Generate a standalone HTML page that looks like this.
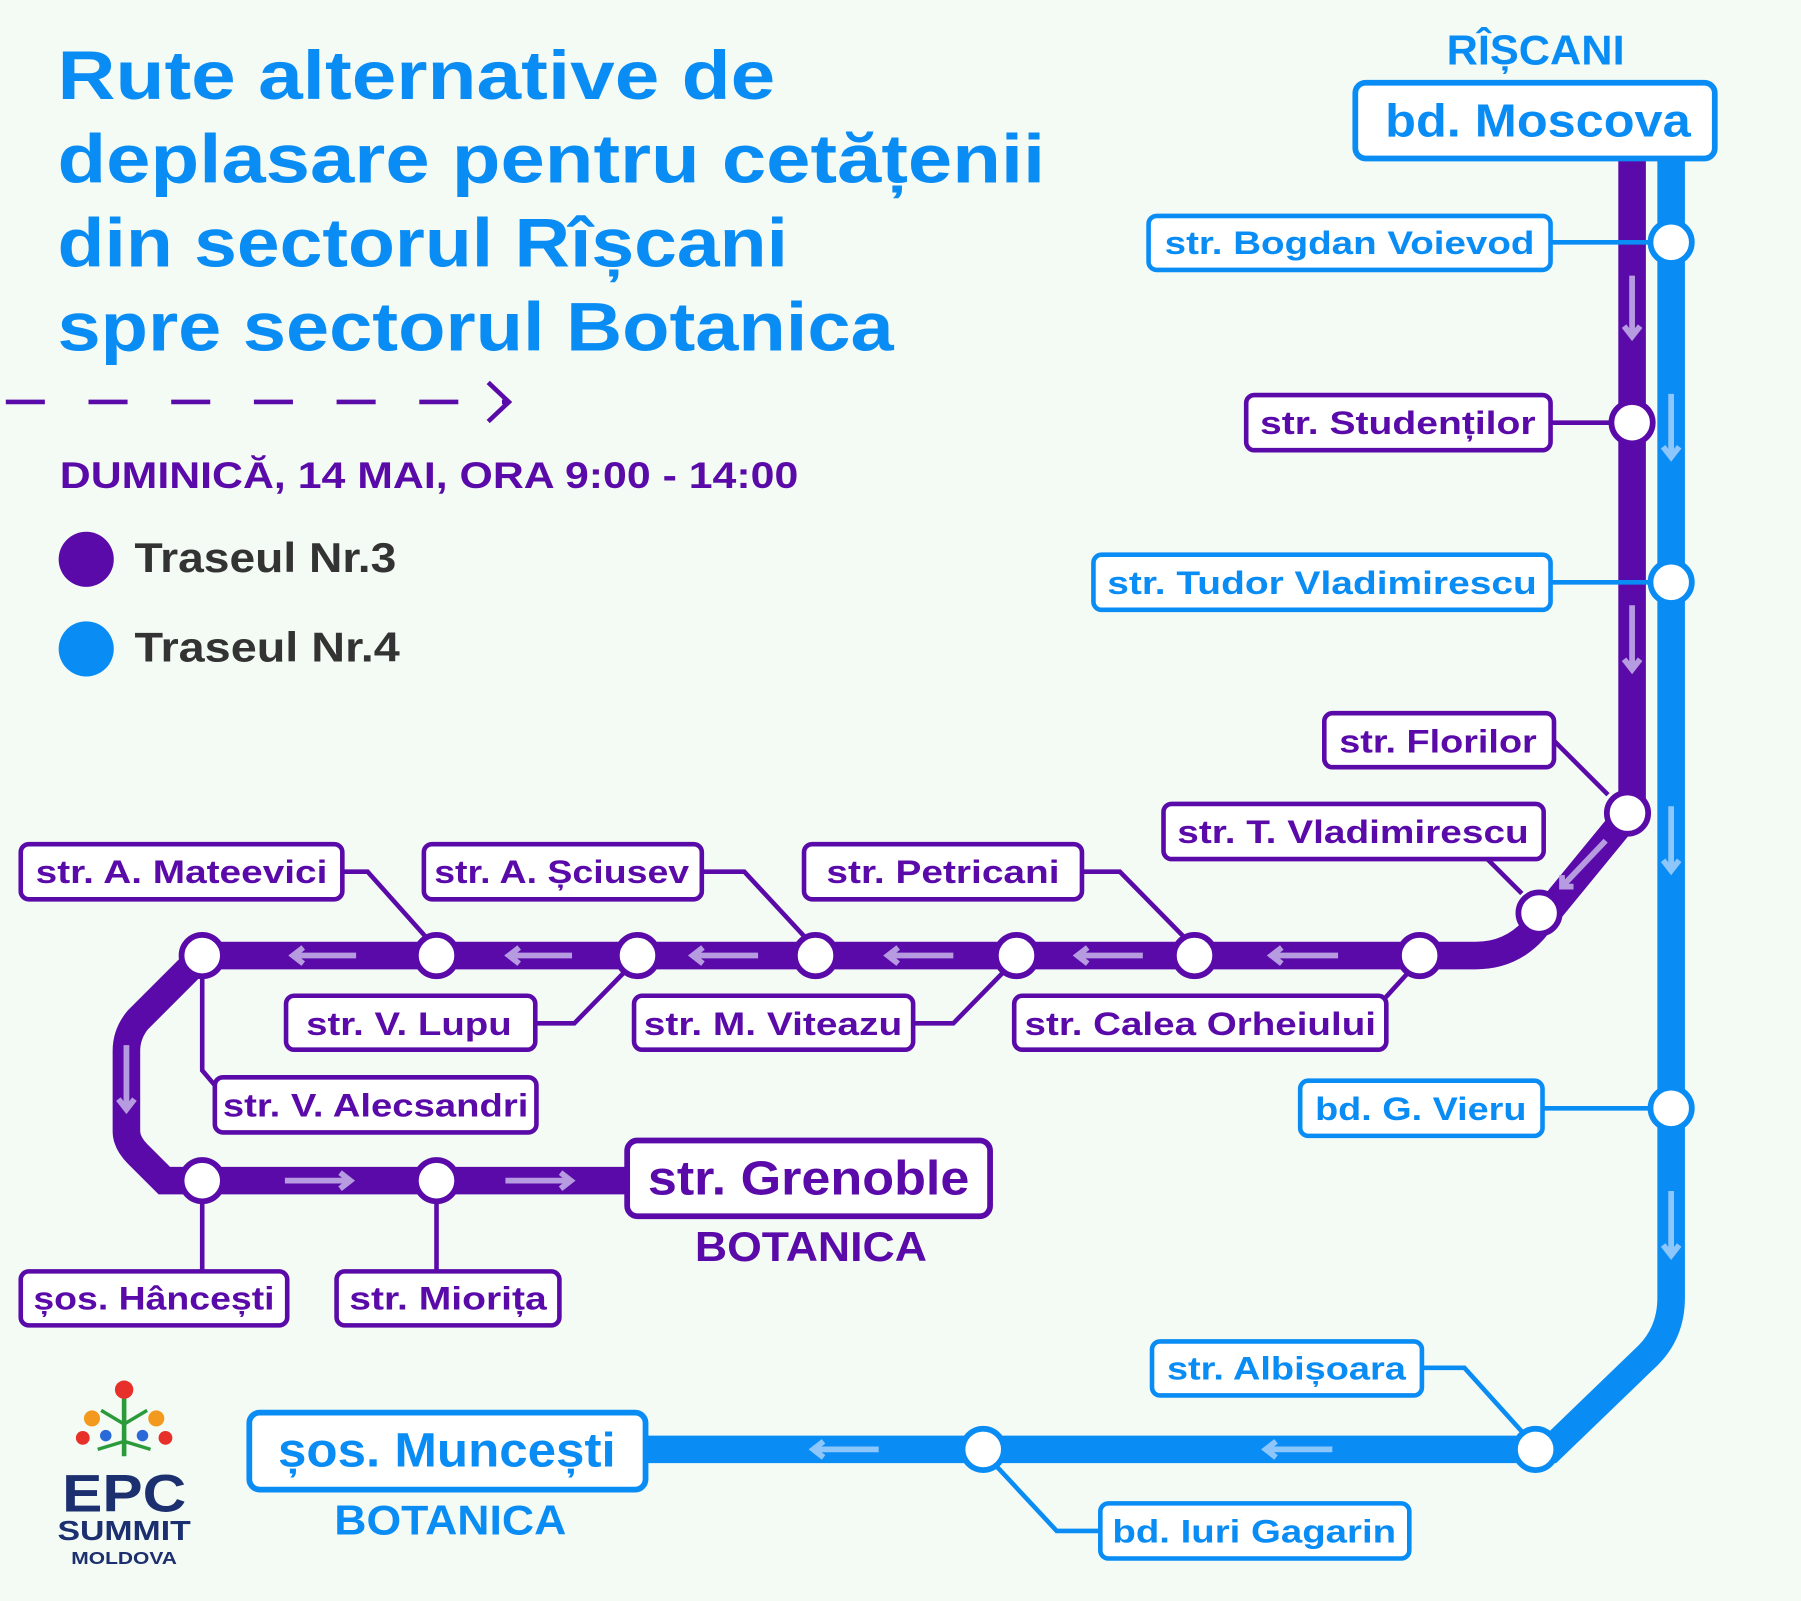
<!DOCTYPE html>
<html><head><meta charset="utf-8"><style>
html,body{margin:0;padding:0;background:#f4fbf4;}
svg{display:block;}
text{font-family:"Liberation Sans",sans-serif;font-weight:bold;}
</style></head><body>
<svg width="1801" height="1601" viewBox="0 0 1568 1394" xmlns="http://www.w3.org/2000/svg">
<rect width="1568" height="1394" fill="#f4fbf4"/>
<g fill="#0a8cf5" font-size="60">
<text x="50" y="86" textLength="625" lengthAdjust="spacingAndGlyphs">Rute alternative de</text>
<text x="50" y="159" textLength="860" lengthAdjust="spacingAndGlyphs">deplasare pentru cetățenii</text>
<text x="50" y="232" textLength="636" lengthAdjust="spacingAndGlyphs">din sectorul Rîșcani</text>
<text x="50" y="305" textLength="728" lengthAdjust="spacingAndGlyphs">spre sectorul Botanica</text>
</g>
<line x1="5" y1="350" x2="440" y2="350" stroke="#5a0aa8" stroke-width="4" stroke-dasharray="34,38"/>
<polyline points="425,333 443,350 425,367" fill="none" stroke="#5a0aa8" stroke-width="4"/>
<text x="52" y="425" font-size="32" fill="#5a0aa8" textLength="643" lengthAdjust="spacingAndGlyphs">DUMINICĂ, 14 MAI, ORA 9:00 - 14:00</text>
<circle cx="75" cy="487" r="24" fill="#5a0aa8"/>
<circle cx="75" cy="565" r="24" fill="#0a8cf5"/>
<text x="117" y="498" font-size="36" fill="#333" textLength="228" lengthAdjust="spacingAndGlyphs">Traseul Nr.3</text>
<text x="117" y="576" font-size="36" fill="#333" textLength="231" lengthAdjust="spacingAndGlyphs">Traseul Nr.4</text>

<!-- lines -->
<path d="M1455,140 V1130 Q1455,1160 1435,1180 L1350,1262 H560" fill="none" stroke="#0a8cf5" stroke-width="24"/>
<path d="M1421,140 V705 L1335,810 Q1315,832 1285,832 H176 L120,888 Q110,900 110,915 V985 Q110,995 120,1005 L143,1028 H550" fill="none" stroke="#5a0aa8" stroke-width="24"/>

<!-- connectors -->
<g fill="none" stroke="#0a8cf5" stroke-width="4">
<line x1="1350" y1="211" x2="1440" y2="211"/>
<line x1="1350" y1="507" x2="1440" y2="507"/>
<line x1="1343" y1="965" x2="1440" y2="965"/>
<polyline points="1238,1191 1275,1191 1330,1252"/>
<polyline points="958,1333 920,1333 866,1275"/>
</g>
<g fill="none" stroke="#5a0aa8" stroke-width="4">
<line x1="1350" y1="368" x2="1405" y2="368"/>
<polyline points="1353,645 1400,692"/>
<polyline points="1295,748 1325,778"/>
<polyline points="942,759 975,759 1030,815"/>
<polyline points="611,759 648,759 700,815"/>
<polyline points="298,759 320,759 370,815"/>
<polyline points="466,891 500,891 545,845"/>
<polyline points="795,891 830,891 875,845"/>
<polyline points="1205,870 1225,848"/>
<polyline points="176,850 176,932 187,945"/>
<line x1="176" y1="1045" x2="176" y2="1107"/>
<line x1="380" y1="1045" x2="380" y2="1107"/>
</g>

<!-- arrows -->
<g stroke="#b79be0" stroke-width="5" fill="none">
<path d="M1421,240 V293 M1414,284 L1421,293 1428,284"/>
<path d="M1421,527 V583 M1414,574 L1421,583 1428,574"/>
<path d="M1398,732 L1360,772 M1360,762 L1360,772 1370,772"/>
<path d="M110,910 V966 M103,957 L110,966 117,957"/>
<path d="M310,832 H255 M264,825 L255,832 264,839"/>
<path d="M498,832 H443 M452,825 L443,832 452,839"/>
<path d="M660,832 H603 M612,825 L603,832 612,839"/>
<path d="M830,832 H773 M782,825 L773,832 782,839"/>
<path d="M995,832 H938 M947,825 L938,832 947,839"/>
<path d="M1165,832 H1107 M1116,825 L1107,832 1116,839"/>
<path d="M248,1028 H305 M296,1021 L305,1028 296,1035"/>
<path d="M440,1028 H497 M488,1021 L497,1028 488,1035"/>
</g>
<g stroke="#8cc6fb" stroke-width="5" fill="none">
<path d="M1455,343 V398 M1448,389 L1455,398 1462,389"/>
<path d="M1455,702 V758 M1448,749 L1455,758 1462,749"/>
<path d="M1455,1037 V1093 M1448,1084 L1455,1093 1462,1084"/>
<path d="M765,1262 H708 M717,1255 L708,1262 717,1269"/>
<path d="M1160,1262 H1102 M1111,1255 L1102,1262 1111,1269"/>
</g>

<!-- nodes -->
<g fill="#fff" stroke="#5a0aa8" stroke-width="5">
<circle cx="1421" cy="368" r="18"/><circle cx="1417" cy="708" r="18"/><circle cx="1340" cy="795" r="18"/>
<circle cx="1236" cy="832" r="18"/><circle cx="1040" cy="832" r="18"/><circle cx="885" cy="832" r="18"/>
<circle cx="710" cy="832" r="18"/><circle cx="555" cy="832" r="18"/><circle cx="380" cy="832" r="18"/>
<circle cx="176" cy="832" r="18"/><circle cx="176" cy="1028" r="18"/><circle cx="380" cy="1028" r="18"/>
</g>
<g fill="#fff" stroke="#0a8cf5" stroke-width="5">
<circle cx="1455" cy="211" r="18"/><circle cx="1455" cy="507" r="18"/><circle cx="1455" cy="965" r="18"/>
<circle cx="1337" cy="1262" r="18"/><circle cx="856" cy="1262" r="18"/>
</g>

<!-- blue labels -->
<g fill="#fff" stroke="#0a8cf5" stroke-width="4">
<rect x="1000" y="188" width="350" height="47" rx="7"/>
<rect x="952" y="483" width="398" height="48" rx="7"/>
<rect x="1132" y="941" width="211" height="48" rx="7"/>
<rect x="1003" y="1168" width="235" height="47" rx="7"/>
<rect x="958" y="1309" width="269" height="48" rx="7"/>
<rect x="1180" y="72" width="313" height="66" rx="9" stroke-width="5"/>
<rect x="217" y="1230" width="345" height="67" rx="9" stroke-width="5"/>
</g>
<g fill="#0a8cf5" font-size="28">
<text x="1175" y="221" text-anchor="middle" textLength="322" lengthAdjust="spacingAndGlyphs">str. Bogdan Voievod</text>
<text x="1151" y="517" text-anchor="middle" textLength="374" lengthAdjust="spacingAndGlyphs">str. Tudor Vladimirescu</text>
<text x="1237" y="975" text-anchor="middle" textLength="184" lengthAdjust="spacingAndGlyphs">bd. G. Vieru</text>
<text x="1120" y="1201" text-anchor="middle" textLength="208" lengthAdjust="spacingAndGlyphs">str. Albișoara</text>
<text x="1092" y="1343" text-anchor="middle" textLength="247" lengthAdjust="spacingAndGlyphs">bd. Iuri Gagarin</text>
<text x="1339" y="119" font-size="40" text-anchor="middle" textLength="266" lengthAdjust="spacingAndGlyphs">bd. Moscova</text>
<text x="389" y="1277" font-size="42" text-anchor="middle" textLength="294" lengthAdjust="spacingAndGlyphs">șos. Muncești</text>
<text x="1337" y="56" font-size="36" font-weight="normal" text-anchor="middle" textLength="155" lengthAdjust="spacingAndGlyphs">RÎȘCANI</text>
<text x="392" y="1336" font-size="36" font-weight="normal" text-anchor="middle" textLength="202" lengthAdjust="spacingAndGlyphs">BOTANICA</text>
</g>

<!-- purple labels -->
<g fill="#fff" stroke="#5a0aa8" stroke-width="4">
<rect x="1085" y="344" width="265" height="48" rx="7"/>
<rect x="1153" y="621" width="200" height="47" rx="7"/>
<rect x="1013" y="700" width="331" height="48" rx="7"/>
<rect x="700" y="735" width="242" height="48" rx="7"/>
<rect x="369" y="735" width="242" height="48" rx="7"/>
<rect x="18" y="735" width="280" height="48" rx="7"/>
<rect x="249" y="867" width="217" height="47" rx="7"/>
<rect x="552" y="867" width="243" height="47" rx="7"/>
<rect x="883" y="867" width="324" height="47" rx="7"/>
<rect x="187" y="938" width="280" height="48" rx="7"/>
<rect x="18" y="1107" width="232" height="47" rx="7"/>
<rect x="293" y="1107" width="194" height="47" rx="7"/>
<rect x="546" y="993" width="316" height="66" rx="9" stroke-width="5"/>
</g>
<g fill="#5a0aa8" font-size="28">
<text x="1217" y="378" text-anchor="middle" textLength="240" lengthAdjust="spacingAndGlyphs">str. Studenților</text>
<text x="1252" y="655" text-anchor="middle" textLength="172" lengthAdjust="spacingAndGlyphs">str. Florilor</text>
<text x="1178" y="734" text-anchor="middle" textLength="306" lengthAdjust="spacingAndGlyphs">str. T. Vladimirescu</text>
<text x="821" y="769" text-anchor="middle" textLength="203" lengthAdjust="spacingAndGlyphs">str. Petricani</text>
<text x="489" y="769" text-anchor="middle" textLength="222" lengthAdjust="spacingAndGlyphs">str. A. Șciusev</text>
<text x="158" y="769" text-anchor="middle" textLength="254" lengthAdjust="spacingAndGlyphs">str. A. Mateevici</text>
<text x="356" y="901" text-anchor="middle" textLength="179" lengthAdjust="spacingAndGlyphs">str. V. Lupu</text>
<text x="673" y="901" text-anchor="middle" textLength="225" lengthAdjust="spacingAndGlyphs">str. M. Viteazu</text>
<text x="1045" y="901" text-anchor="middle" textLength="306" lengthAdjust="spacingAndGlyphs">str. Calea Orheiului</text>
<text x="327" y="972" text-anchor="middle" textLength="266" lengthAdjust="spacingAndGlyphs">str. V. Alecsandri</text>
<text x="134" y="1140" text-anchor="middle" textLength="210" lengthAdjust="spacingAndGlyphs">șos. Hâncești</text>
<text x="390" y="1140" text-anchor="middle" textLength="172" lengthAdjust="spacingAndGlyphs">str. Miorița</text>
<text x="704" y="1040" font-size="42" text-anchor="middle" textLength="280" lengthAdjust="spacingAndGlyphs">str. Grenoble</text>
<text x="706" y="1098" font-size="36" font-weight="normal" text-anchor="middle" textLength="202" lengthAdjust="spacingAndGlyphs">BOTANICA</text>
</g>

<!-- logo -->
<g>
<line x1="108" y1="1215" x2="108" y2="1268" stroke="#2a9a3a" stroke-width="4"/>
<circle cx="108" cy="1210" r="8" fill="#e8302a"/>
<circle cx="80" cy="1235" r="7" fill="#f39a1e"/><circle cx="136" cy="1235" r="7" fill="#f39a1e"/>
<circle cx="72" cy="1252" r="6" fill="#e8302a"/><circle cx="144" cy="1252" r="6" fill="#e8302a"/>
<circle cx="92" cy="1250" r="5" fill="#2a6ad8"/><circle cx="124" cy="1250" r="5" fill="#2a6ad8"/>
<path d="M108,1240 L88,1228 M108,1240 L128,1228 M108,1255 L85,1262 M108,1255 L131,1262" stroke="#2a9a3a" stroke-width="3"/>
<text x="108" y="1316" font-size="46" fill="#1c2f6e" text-anchor="middle" textLength="108" lengthAdjust="spacingAndGlyphs">EPC</text>
<text x="108" y="1341" font-size="24" fill="#1c2f6e" text-anchor="middle" textLength="116" lengthAdjust="spacingAndGlyphs">SUMMIT</text>
<text x="108" y="1362" font-size="15" font-weight="normal" fill="#1c2f6e" text-anchor="middle" textLength="92" lengthAdjust="spacingAndGlyphs">MOLDOVA</text>
</g>
</svg>
</body></html>
